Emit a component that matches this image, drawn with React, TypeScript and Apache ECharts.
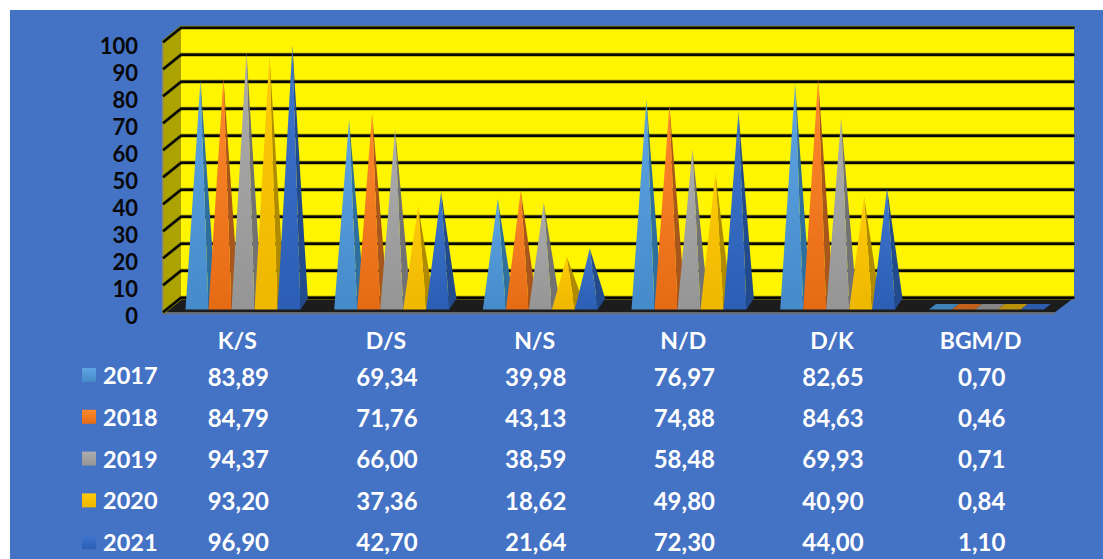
import React, { useEffect, useRef } from "react";
import * as echarts from "echarts";

const categories = ["K/S", "D/S", "N/S", "N/D", "D/K", "BGM/D"];
const years = ["2017", "2018", "2019", "2020", "2021"];
const v2017 = [83.89, 69.34, 39.98, 76.97, 82.65, 0.7];
const v2018 = [84.79, 71.76, 43.13, 74.88, 84.63, 0.46];
const v2019 = [94.37, 66.0, 38.59, 58.48, 69.93, 0.71];
const v2020 = [93.2, 37.36, 18.62, 49.8, 40.9, 0.84];
const v2021 = [96.9, 42.7, 21.64, 72.3, 44.0, 1.1];
const seriesValues = [v2017, v2018, v2019, v2020, v2021];
const yTicks = [0, 10, 20, 30, 40, 50, 60, 70, 80, 90, 100];

const faceTop = ["#5fa5e4", "#ff8a2e", "#adadad", "#ffcb0a", "#3f76cf"];
const faceBottom = ["#458ac9", "#e56a14", "#959595", "#eeb700", "#2b5eb4"];
const sideColor = ["#2f6f9e", "#a8561c", "#727272", "#b08a00", "#214b8c"];
const flatColor = ["#3f82b8", "#c2611c", "#858585", "#bb920c", "#2c5cab"];
const rowY = [376, 417, 458, 500, 541];

const FONT = "Lato, 'Open Sans', sans-serif";
const BLUE = "#4472c4";

const vGrad = (a: string, b: string) =>
  new echarts.graphic.LinearGradient(0, 0, 0, 1, [
    { offset: 0, color: a },
    { offset: 1, color: b },
  ]);

const DX = 18;
const backY = (y: number) => y - 17.3;
const wallY = (y: number) => y - 2.8;

function renderWalls(params: any, api: any) {
  const cs = params.coordSys;
  const l = cs.x;
  const r = cs.x + cs.width;
  const top = api.coord([0, 100])[1];
  const bottom = api.coord([0, 0])[1];
  return {
    type: "group",
    children: [
      { type: "polygon", shape: { points: [[l + DX, backY(top)], [r + DX + 1, backY(top)], [r + DX + 1, backY(bottom)], [l + DX, backY(bottom)]] }, style: { fill: "#fff500" } },
      { type: "polygon", shape: { points: [[l, wallY(top)], [l + DX, backY(top)], [l + DX, backY(bottom)], [l, wallY(bottom)]] }, style: { fill: "#aca200" } },
      { type: "polygon", shape: { points: [[l + DX, backY(bottom)], [r + DX + 1, backY(bottom)], [r, wallY(bottom)], [l, wallY(bottom)]] }, style: { fill: "#1c1c1c" } },
      { type: "rect", shape: { x: l - 1, y: wallY(bottom), width: cs.width + 1, height: 2 }, style: { fill: "#6f6f6f" } },
      { type: "rect", shape: { x: l - 1, y: wallY(top), width: 1.5, height: bottom - top }, style: { fill: "#8a8a6a" } },
    ],
  };
}

function renderGrid(params: any, api: any) {
  const cs = params.coordSys;
  const y = api.coord([0, api.value(0)])[1];
  const pts = [[cs.x, wallY(y)], [cs.x + DX, backY(y)], [cs.x + cs.width + DX + 1.5, backY(y)]];
  return {
    type: "group",
    children: [
      { type: "polyline", shape: { points: pts }, style: { fill: "none", stroke: "#8f8a00", lineWidth: 3.8 } },
      { type: "polyline", shape: { points: pts }, style: { fill: "none", stroke: "#060606", lineWidth: 2.4 } },
    ],
  };
}

const makeRender = (s: number) => (params: any, api: any) => {
  const cat = api.value(0);
  const val = api.value(1);
  const band = api.size([1, 0])[0];
  const w = band * 0.1547;
  const c = api.coord([cat, 0]);
  const apexY = api.coord([cat, val])[1] - 8;
  const baseY = c[1] - 5.5;
  const x0 = c[0] + 5.7 - 2.5 * w + s * w;
  const apex = [x0 + w / 2 + 3.4, apexY];
  const children: any[] = [];
  if (val < 5) {
    children.push({
      type: "polygon",
      shape: { points: [[x0, baseY], [x0 + w, baseY], [x0 + w + 7, baseY - 5.5], [x0 + 7, baseY - 5.5]] },
      style: { fill: flatColor[s] },
    });
  } else {
    children.push({
      type: "polygon",
      shape: { points: [[x0 + w, baseY], [x0 + w + 7.3, baseY - 11], apex] },
      style: { fill: sideColor[s] },
    });
    children.push({
      type: "polygon",
      shape: { points: [[x0, baseY], [x0 + w, baseY], apex] },
      style: { fill: vGrad(faceTop[s], faceBottom[s]) },
    });
  }
  children.push({
    type: "text",
    x: c[0] + 1,
    y: rowY[s],
    style: {
      text: val.toFixed(2).replace(".", ","),
      fill: "#ffffff",
      font: `bold 24px ${FONT}`,
      align: "center",
      verticalAlign: "middle",
    },
  });
  return { type: "group", children };
};

export default function App() {
  const ref = useRef<HTMLDivElement>(null);
  useEffect(() => {
    document.body.style.margin = "0";
    const chart = echarts.init(ref.current!, undefined, { renderer: "svg" });
    chart.setOption({
      animation: false,
      backgroundColor: "#ffffff",
      graphic: [
        { type: "rect", z: -10, shape: { x: 10, y: 10, width: 1093, height: 549 }, style: { fill: BLUE } },
      ],
      grid: { left: 163, right: 48, top: 45, bottom: 244 },
      legend: {
        data: years,
        orient: "vertical",
        left: 82,
        top: 363,
        padding: 0,
        itemWidth: 14,
        itemHeight: 14,
        itemGap: 17.8,
        icon: "rect",
        selectedMode: false,
        textStyle: { color: "#ffffff", fontFamily: FONT, fontWeight: "bold", fontSize: 23.5, padding: [0, 0, 0, 2] },
      },
      xAxis: {
        type: "category",
        data: categories,
        axisLine: { show: false },
        axisTick: { show: false },
        axisLabel: { color: "#ffffff", fontFamily: FONT, fontWeight: "bold", fontSize: 23, margin: 13 },
      },
      yAxis: {
        type: "value",
        min: 0,
        max: 100,
        interval: 10,
        splitLine: { show: false },
        axisLine: { show: false },
        axisTick: { show: false },
        axisLabel: { color: "#080808", fontFamily: FONT, fontWeight: "bold", fontSize: 22, margin: 25 },
      },
      series: [
        { type: "custom", name: "walls", silent: true, z: 1, renderItem: renderWalls, data: [[0]], encode: { y: 0 } },
        { type: "custom", name: "grid", silent: true, z: 2, renderItem: renderGrid, data: yTicks.map((t) => [t]), encode: { y: 0 } },
        ...years.map((y, s) => ({
          type: "custom",
          name: y,
          z: 3 + s,
          itemStyle: { color: vGrad(faceTop[s], faceBottom[s]) },
          renderItem: makeRender(s),
          encode: { x: 0, y: 1 },
          data: seriesValues[s].map((v, i) => [i, v]),
        })),
      ],
    });
    return () => chart.dispose();
  }, []);
  return <div ref={ref} style={{ width: 1103, height: 559 }} />;
}
